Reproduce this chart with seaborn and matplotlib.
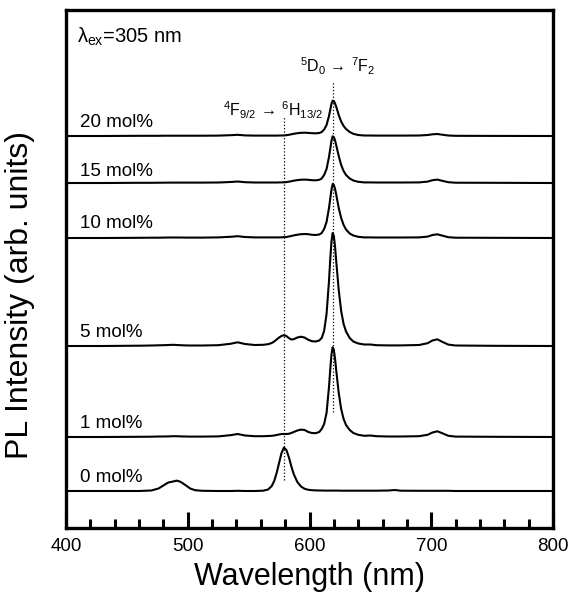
import numpy as np
import pandas as pd
import matplotlib
matplotlib.use("Agg")
import matplotlib.pyplot as plt
import seaborn as sns
from matplotlib.ticker import MultipleLocator

# wavelength grid (nm), shared by all spectra
wl = [400, 430, 460, 470, 476, 480, 484, 488, 491, 494,
      498, 502, 506, 512, 525, 535, 541, 547, 555, 562,
      566, 569, 571, 573, 575, 577, 579, 581, 583, 585,
      587, 590, 593, 596, 599, 602, 605, 608, 610, 612,
      614, 616, 617, 618, 619, 620, 621, 622, 624, 626,
      628, 630, 633, 636, 640, 645, 650, 655, 665, 670,
      675, 690, 697, 701, 705, 709, 714, 720, 750, 800]

# PL intensities (arb. units)
pl_0 = [0, 0, 0, 0.05, 0.25, 0.55, 0.85, 0.95, 1.04, 0.92,
        0.6, 0.25, 0.08, 0.02, 0, 0, 0.02, 0, 0, 0.03,
        0.15, 0.5, 1.0, 1.8, 2.8, 3.8, 4.34, 4.1, 3.4, 2.5,
        1.7, 0.9, 0.45, 0.22, 0.12, 0.08, 0.06, 0.05, 0.05, 0.04,
        0.04, 0.04, 0.04, 0.04, 0.04, 0.04, 0.04, 0.04, 0.04, 0.03,
        0.03, 0.03, 0.03, 0.03, 0.03, 0.03, 0.03, 0.03, 0.05, 0.1,
        0.03, 0.02, 0.02, 0.02, 0.02, 0.02, 0.02, 0, 0, 0]
pl_1 = [0, 0, 0.02, 0.03, 0.05, 0.05, 0.06, 0.08, 0.08, 0.06,
        0.05, 0.04, 0.04, 0.04, 0.06, 0.18, 0.3, 0.15, 0.08, 0.08,
        0.1, 0.12, 0.15, 0.2, 0.25, 0.3, 0.3, 0.3, 0.32, 0.4,
        0.5, 0.65, 0.74, 0.7, 0.5, 0.4, 0.38, 0.5, 0.8, 1.3,
        2.4, 5.0, 6.7, 8.2, 8.97, 8.7, 7.8, 6.6, 4.4, 2.8,
        1.8, 1.2, 0.7, 0.4, 0.22, 0.12, 0.15, 0.08, 0.05, 0.05,
        0.05, 0.08, 0.22, 0.45, 0.57, 0.38, 0.12, 0.04, 0.02, 0]
pl_5 = [0, 0, 0.03, 0.05, 0.07, 0.08, 0.1, 0.12, 0.1, 0.08,
        0.06, 0.05, 0.05, 0.05, 0.08, 0.22, 0.37, 0.2, 0.1, 0.12,
        0.18, 0.3, 0.45, 0.65, 0.85, 1.0, 1.08, 1.0, 0.8, 0.65,
        0.68, 0.85, 0.93, 0.84, 0.62, 0.48, 0.45, 0.55, 0.8, 1.5,
        3.2, 6.5, 8.6, 10.4, 11.3, 11.0, 9.9, 8.4, 5.6, 3.5,
        2.2, 1.45, 0.8, 0.45, 0.25, 0.15, 0.15, 0.08, 0.06, 0.06,
        0.06, 0.1, 0.28, 0.55, 0.67, 0.42, 0.14, 0.05, 0.02, 0]
pl_10 = [0, 0, 0.02, 0.03, 0.03, 0.04, 0.05, 0.05, 0.05, 0.05,
         0.04, 0.04, 0.04, 0.04, 0.06, 0.12, 0.18, 0.1, 0.06, 0.06,
         0.06, 0.06, 0.06, 0.06, 0.06, 0.07, 0.08, 0.1, 0.15, 0.2,
         0.26, 0.33, 0.38, 0.4, 0.38, 0.32, 0.3, 0.35, 0.5, 0.9,
         1.6, 3.0, 3.9, 4.8, 5.4, 5.3, 4.9, 4.3, 3.0, 2.0,
         1.3, 0.85, 0.45, 0.25, 0.12, 0.06, 0.06, 0.05, 0.05, 0.05,
         0.05, 0.06, 0.14, 0.3, 0.37, 0.24, 0.08, 0.03, 0.02, 0]
pl_15 = [0, 0, 0.02, 0.02, 0.03, 0.03, 0.04, 0.04, 0.04, 0.04,
         0.04, 0.04, 0.04, 0.04, 0.05, 0.1, 0.15, 0.08, 0.05, 0.05,
         0.05, 0.05, 0.05, 0.05, 0.06, 0.06, 0.07, 0.09, 0.13, 0.18,
         0.23, 0.29, 0.33, 0.34, 0.32, 0.28, 0.27, 0.32, 0.45, 0.8,
         1.4, 2.6, 3.4, 4.2, 4.67, 4.6, 4.25, 3.75, 2.7, 1.8,
         1.2, 0.8, 0.45, 0.25, 0.12, 0.06, 0.06, 0.05, 0.05, 0.05,
         0.05, 0.06, 0.14, 0.28, 0.34, 0.22, 0.08, 0.03, 0.02, 0]
pl_20 = [0, 0, 0.02, 0.02, 0.02, 0.03, 0.03, 0.03, 0.03, 0.03,
         0.03, 0.03, 0.03, 0.03, 0.04, 0.08, 0.12, 0.06, 0.04, 0.04,
         0.04, 0.04, 0.04, 0.04, 0.05, 0.05, 0.06, 0.08, 0.12, 0.17,
         0.22, 0.28, 0.32, 0.33, 0.31, 0.28, 0.27, 0.3, 0.4, 0.65,
         1.1, 2.0, 2.6, 3.2, 3.53, 3.5, 3.25, 2.9, 2.1, 1.45,
         1.0, 0.7, 0.4, 0.22, 0.1, 0.05, 0.05, 0.04, 0.04, 0.04,
         0.04, 0.05, 0.1, 0.17, 0.2, 0.13, 0.05, 0.02, 0.01, 0]

labels = ["0 mol%", "1 mol%", "5 mol%", "10 mol%", "15 mol%", "20 mol%"]
offsets = [3.7, 9.1, 18.2, 29.0, 34.5, 39.2]
label_y = [4.55, 9.97, 19.07, 30.0, 35.2, 40.13]
spectra = [pl_0, pl_1, pl_5, pl_10, pl_15, pl_20]

sns.set_style("white")
plt.rcParams["font.family"] = ["Liberation Sans", "DejaVu Sans"]
plt.rcParams["mathtext.fontset"] = "custom"
plt.rcParams["mathtext.rm"] = "Liberation Sans"
plt.rcParams["mathtext.it"] = "Liberation Sans"
plt.rcParams["mathtext.bf"] = "Liberation Sans:bold"
plt.rcParams["text.color"] = "black"
plt.rcParams["axes.labelcolor"] = "black"
plt.rcParams["xtick.color"] = "black"

fig = plt.figure(figsize=(5.7, 5.96), dpi=100)
ax = fig.add_axes([0.1158, 0.1141, 0.8544, 0.8691])

for lab, off, spec, ly in zip(labels, offsets, spectra, label_y):
    d = pd.DataFrame({"wl": wl, "I": np.array(spec) + off})
    sns.lineplot(data=d, x="wl", y="I", ax=ax, color="black", lw=1.5)
    ax.text(411.5, ly, lab, fontsize=13.5, ha="left", va="baseline")

# transition markers
ax.plot([579, 579], [4.8, 41.2], ls=":", color="black", lw=0.9)
ax.plot([619, 619], [11.6, 44.7], ls=":", color="black", lw=0.9)
ax.text(529, 41.13, r"$^{4}F_{9/2}\,\rightarrow\,^{6}H_{13/2}$", fontsize=11.5,
        ha="left", va="baseline")
ax.text(592.5, 45.53, r"$^{5}D_{0}\,\rightarrow\,^{7}F_{2}$", fontsize=11.5,
        ha="left", va="baseline")
ax.text(409, 48.55, r"$\lambda_{ex}$=305 nm", fontsize=14.5, ha="left", va="baseline")

ax.set_xlim(400, 800)
ax.set_ylim(0, 51.8)
ax.set_xticks([400, 500, 600, 700, 800])
ax.xaxis.set_minor_locator(MultipleLocator(20))
ax.set_yticks([])
ax.tick_params(axis="x", which="major", direction="in", length=11.5, width=2.2,
               labelsize=13.5, pad=7.5, top=False, bottom=True)
ax.tick_params(axis="x", which="minor", direction="in", length=6.5, width=2.2,
               top=False, bottom=True)
for sp in ax.spines.values():
    sp.set_linewidth(2.4)
    sp.set_color("black")

ax.set_xlabel("Wavelength (nm)", fontsize=22, labelpad=5)
ax.set_ylabel("PL Intensity (arb. units)", fontsize=23)
ax.yaxis.set_label_coords(-0.064, 0.449)

fig.savefig("out.png", dpi=100)
